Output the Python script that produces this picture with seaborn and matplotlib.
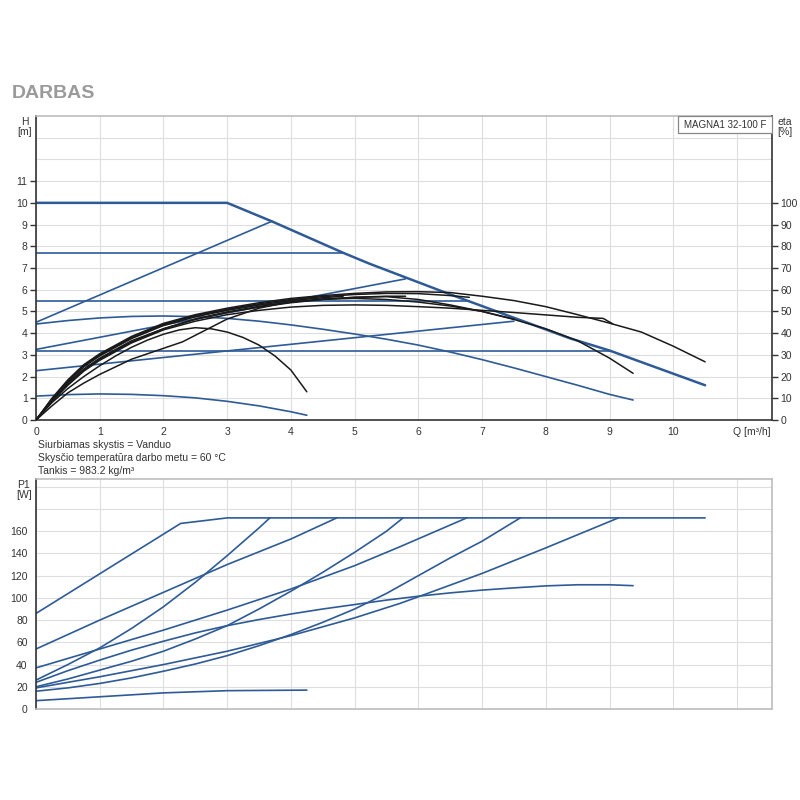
import seaborn as sns
import matplotlib.pyplot as plt
from matplotlib.patches import Rectangle

# ---- QH curves (Q [m3/h], H [m]) ----
q_max = [0, 3.0, 3.7, 4.82, 5.24, 6.45, 8.38, 9.0, 10.5]
h_max = [10, 10, 9.15, 7.7, 7.19, 5.84, 3.76, 3.2, 1.6]

const_h = [7.7, 5.5, 3.2]
const_q_end = [4.82, 6.8, 9.0]

prop_h0 = [4.5, 3.25, 2.27]
prop_q_end = [3.7, 5.8, 7.5]
prop_h_end = [9.15, 6.5, 4.55]

q_c8 = [0, 0.5, 1, 1.5, 2, 2.5, 3, 3.5, 4, 4.5, 5, 5.5, 6, 6.5, 7, 7.5, 8,
        8.5, 9, 9.37]
h_c8 = [4.42, 4.58, 4.7, 4.77, 4.79, 4.76, 4.68, 4.55, 4.38, 4.18, 3.96,
        3.72, 3.45, 3.13, 2.78, 2.4, 2.0, 1.6, 1.18, 0.92]

q_c9 = [0, 0.5, 1, 1.5, 2, 2.5, 3, 3.5, 4, 4.25]
h_c9 = [1.1, 1.17, 1.2, 1.18, 1.12, 1.02, 0.86, 0.65, 0.38, 0.22]

# ---- efficiency curves (Q [m3/h], eta [%]) ----
eq_max = [0, 0.25, 0.5, 0.75, 1, 1.5, 2, 2.5, 3, 3.5, 4, 4.5, 5, 5.5, 6, 6.5,
          7, 7.5, 8, 8.5, 9, 9.5, 10, 10.5]
eta_max = [0, 10, 18.5, 25.5, 30.5, 38.5, 44.5, 48.5, 51.5, 54, 56, 57.3,
           58.3, 59, 59.1, 58.7, 57, 55, 52.2, 48.5, 44.6, 40.5, 34, 26.8]
eq_c8 = [0, 0.25, 0.5, 0.75, 1, 1.5, 2, 2.5, 3, 3.5, 4, 4.5, 5, 5.5, 6, 6.5,
         7, 7.5, 8, 8.5, 9, 9.37]
eta_c8 = [0, 9, 17, 23.5, 28.5, 36.5, 42, 46.3, 49.5, 52, 54, 55.5, 56.5,
          56.8, 55.5, 53, 50, 46.3, 42, 36.5, 28.5, 21.5]
eq_c9 = [0, 0.25, 0.5, 0.75, 1, 1.25, 1.5, 1.75, 2, 2.25, 2.5, 2.75, 3, 3.25,
         3.5, 3.75, 4, 4.25]
eta_c9 = [0, 8, 14.5, 20, 25, 29.5, 33.5, 36.8, 39.5, 41.5, 42.5, 42, 40.5,
          38, 34.5, 29.5, 23, 13]
eq_k32 = [0, 0.25, 0.5, 0.75, 1, 1.5, 2, 2.5, 3, 3.5, 4, 4.5, 5, 5.5, 6, 6.5,
          7, 7.5, 8, 8.5, 8.9, 9.05]
eta_k32 = [0, 8.5, 16, 22.5, 27.5, 35.5, 41.5, 45.5, 48.5, 50.5, 52, 52.8,
           53, 52.8, 52.2, 51.5, 50.5, 49.5, 48.4, 47.3, 46.8, 44.3]
eq_k55 = [0, 0.25, 0.5, 0.75, 1, 1.5, 2, 2.5, 3, 3.5, 4, 4.5, 5, 5.5, 6, 6.5,
          6.8]
eta_k55 = [0, 9.5, 18, 25, 30, 38, 44, 48, 51, 53.5, 55.5, 56.8, 57.8, 58.3,
           58.2, 57.3, 56.5]
eq_k77 = [0, 0.25, 0.5, 0.75, 1, 1.5, 2, 2.5, 3, 3.5, 4, 4.5, 4.82]
eta_k77 = [0, 9.3, 17.5, 24.5, 29.5, 37.5, 43.5, 47.5, 50.5, 53, 55, 56.3, 57]
eq_p45 = [0, 0.25, 0.5, 0.75, 1, 1.5, 2, 2.5, 3, 3.5, 3.7]
eta_p45 = [0, 9.7, 18, 25, 30, 38, 44, 48, 50.8, 53, 53.5]
eq_p325 = [0, 0.25, 0.5, 0.75, 1, 1.5, 2, 2.5, 3, 3.5, 4, 4.5, 5, 5.5, 5.8]
eta_p325 = [0, 8.8, 16.5, 23, 28, 36, 42, 46.5, 49.8, 52.3, 54.3, 55.7, 56.5,
            57, 57]
eq_p227 = [0, 0.25, 0.5, 0.75, 1, 1.5, 2, 2.3, 2.6, 3, 3.5, 4, 4.5, 5, 5.5,
           6, 6.5, 7, 7.5]
eta_p227 = [0, 6.5, 12.5, 17, 21, 28, 33, 36, 40.5, 46.5, 51.5, 54.5, 55.6,
            56, 55.5, 54.3, 52.5, 50, 46.5]

# ---- power curves (Q [m3/h], P1 [W]) ----
pq_max = [0, 2.27, 3.0, 10.5]
p_max = [86, 167, 172, 172]
pq_k77 = [0, 1, 2, 3, 4, 4.72]
p_k77 = [54, 80, 105, 130, 153, 172]
pq_k55 = [0, 1, 2, 3, 4, 5, 5.71, 6.76]
p_k55 = [37, 54, 71, 89, 108, 129, 146, 172]
pq_k32 = [0, 1, 2, 3, 4, 5, 5.71, 6, 6.5, 7, 8, 9.14]
p_k32 = [19, 29, 40, 52, 66, 82, 95, 101, 111.5, 122, 145, 172]
pq_p45 = [0, 0.5, 1, 1.5, 2, 2.5, 3, 3.5, 3.67]
p_p45 = [26, 40, 55, 72.5, 92, 114, 138, 163, 172]
pq_p325 = [0, 0.5, 1, 1.5, 2, 2.5, 3, 3.5, 4, 4.5, 5, 5.5, 5.76]
p_p325 = [20, 27, 35, 43, 52, 63, 75, 90, 106, 123, 141, 160, 172]
pq_p227 = [0, 0.5, 1, 1.5, 2, 2.5, 3, 3.5, 4, 4.5, 5, 5.5, 6, 6.5, 7, 7.6]
p_p227 = [16, 19, 23, 28, 34, 40.5, 48, 57, 67, 78, 90, 104, 120, 136, 151,
          172]
pq_c8 = [0, 0.5, 1, 1.5, 2, 2.5, 3, 3.5, 4, 4.5, 5, 5.5, 6, 6.5, 7, 7.5, 8,
         8.5, 9, 9.37]
p_c8 = [24, 34.5, 44, 53, 61, 68.5, 75, 80.5, 85.5, 90, 94, 98, 101.5, 104.5,
        107, 109, 110.8, 111.8, 111.8, 111]
pq_c9 = [0, 1, 2, 3, 4.25]
p_c9 = [7.5, 11, 14.5, 16.5, 17]

BLUE = '#2e5b97'
BLACK = '#1a1a1a'
DARK = '#333333'
GRID = '#dedede'
FRAME = '#bdbdbd'

sns.set_style('white')
plt.rcParams['font.family'] = ['Liberation Sans', 'DejaVu Sans']


def draw(ax, x, y, color=BLUE, lw=1.2):
    sns.lineplot(x=x, y=y, ax=ax, color=color, lw=lw, estimator=None,
                 sort=False, legend=False)


fig = plt.figure(figsize=(8, 8), dpi=100)
ax1 = fig.add_axes([0.045, 0.475, 0.92, 0.38])
ax2 = fig.add_axes([0.045, 0.11375, 0.92, 0.2875])
ax1e = ax1.twinx()

xmax = 11.55

# top chart: QH
draw(ax1, q_max, h_max, lw=1.8)
for h, qe in zip(const_h, const_q_end):
    draw(ax1, [0, qe], [h, h])
for h0, qe, he in zip(prop_h0, prop_q_end, prop_h_end):
    draw(ax1, [0, qe], [h0, he])
draw(ax1, q_c8, h_c8)
draw(ax1, q_c9, h_c9)

# efficiency
for q, e in [(eq_max, eta_max), (eq_c8, eta_c8), (eq_c9, eta_c9),
             (eq_k32, eta_k32), (eq_k55, eta_k55), (eq_k77, eta_k77),
             (eq_p45, eta_p45), (eq_p325, eta_p325), (eq_p227, eta_p227)]:
    draw(ax1e, q, e, color=BLACK, lw=1.1)

ax1.set_xlim(0, xmax)
ax1.set_ylim(0, 14)
ax1e.set_ylim(0, 140)
ax1.set_xticks(range(12))
ax1.set_xticklabels([str(i) for i in range(11)] + [''])
ax1.set_yticks(range(12))
ax1.set_yticks([12, 13], minor=True)
ax1e.set_yticks(range(0, 101, 10))
ax1.grid(True, which='both', color=GRID, lw=0.8)
ax1.tick_params(axis='y', which='minor', length=0)
ax1.set_axisbelow(True)
ax1.set_xlabel('')
ax1.set_ylabel('')
ax1e.set_ylabel('')

# bottom chart: P1
for q, p in [(pq_max, p_max), (pq_k77, p_k77), (pq_k55, p_k55),
             (pq_k32, p_k32), (pq_p45, p_p45), (pq_p325, p_p325),
             (pq_p227, p_p227), (pq_c8, p_c8), (pq_c9, p_c9)]:
    draw(ax2, q, p)

ax2.set_xlim(0, xmax)
ax2.set_ylim(0, 207)
ax2.set_xticks(range(12))
ax2.set_xticklabels([])
ax2.set_yticks(range(0, 201, 20))
ax2.set_yticklabels([str(v) for v in range(0, 161, 20)] + ['', ''])
ax2.grid(True, color=GRID, lw=0.8)
ax2.set_axisbelow(True)
ax2.set_xlabel('')
ax2.set_ylabel('')

for ax in (ax1, ax1e, ax2):
    ax.tick_params(which='major', direction='out', length=4, width=1,
                   color=DARK, labelcolor=DARK, labelsize=7.5, pad=2)
ax2.tick_params(axis='x', length=0)
ax1.tick_params(axis='x', length=3)

for s in ax1.spines.values():
    s.set_color(DARK)
    s.set_linewidth(1.2)
ax1.spines['top'].set_color(FRAME)
ax1.spines['right'].set_visible(False)
for name in ('left', 'top', 'bottom'):
    ax1e.spines[name].set_visible(False)
ax1e.spines['right'].set_color(DARK)
ax1e.spines['right'].set_linewidth(1.2)

for s in ax2.spines.values():
    s.set_color(FRAME)
    s.set_linewidth(1.2)
ax2.spines['left'].set_color(DARK)

# model box
ax1e.add_patch(Rectangle((0.872, 0.944), 0.128, 0.056, transform=ax1e.transAxes,
                         facecolor='white', edgecolor='#888888', lw=0.9,
                         zorder=5, clip_on=False))
ax1e.text(0.936, 0.972, 'MAGNA1 32-100 F', transform=ax1e.transAxes,
          ha='center', va='center', fontsize=7, color=DARK, zorder=6)

# labels
fig.text(12 / 800, 1 - 93 / 800, 'DARBAS', fontsize=14, fontweight='bold',
         color='#9a9a9a', va='center', ha='left')
fig.text(25 / 800, 1 - 127 / 800, 'H\n[m]', fontsize=7.5, color=DARK,
         ha='center', va='center', linespacing=1.1)
fig.text(785 / 800, 1 - 127 / 800, 'eta\n[%]', fontsize=7.5, color=DARK,
         ha='center', va='center', linespacing=1.1)
fig.text(24 / 800, 1 - 490 / 800, 'P1\n[W]', fontsize=7.5, color=DARK,
         ha='center', va='center', linespacing=1.1)
fig.text(752 / 800, 1 - 432 / 800, 'Q [m³/h]', fontsize=7.5, color=DARK,
         ha='center', va='center')

info = ['Siurbiamas skystis = Vanduo',
        'Skysčio temperatūra darbo metu = 60 °C',
        'Tankis = 983.2 kg/m³']
for i, line in enumerate(info):
    fig.text(38 / 800, 1 - (445 + 13 * i) / 800, line, fontsize=7.5,
             color=DARK, ha='left', va='center')

fig.savefig('out.png', dpi=100)
